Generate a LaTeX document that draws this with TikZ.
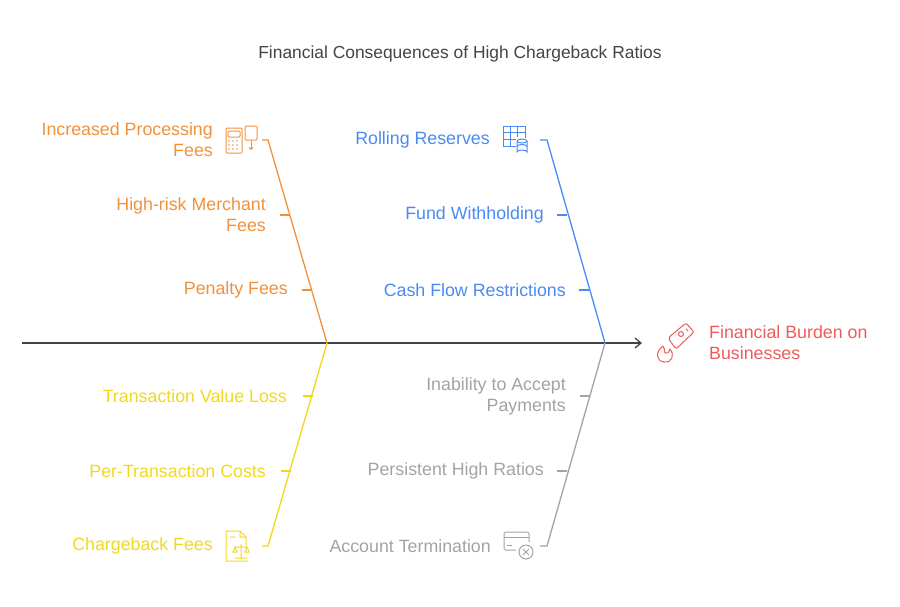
\documentclass[tikz,border=0pt]{standalone}
\usepackage{fontspec}
\setmainfont{Liberation Sans}
\usetikzlibrary{arrows.meta}
\definecolor{cor}{HTML}{F0923C}
\definecolor{cbl}{HTML}{4A8AF4}
\definecolor{cye}{HTML}{F2D81C}
\definecolor{cgr}{HTML}{A3A3A3}
\definecolor{cre}{HTML}{EF5B5B}
\definecolor{cdk}{HTML}{444444}
\begin{document}
\begin{tikzpicture}[x=1pt,y=-1pt,
 lbl/.style={font=\fontsize{17.8}{21}\selectfont,align=right,anchor=east,inner sep=0pt},
 bone/.style={line width=1.3pt},
 ico/.style={line width=1pt}]
\useasboundingbox (0,0) rectangle (900,606);
\node[font=\fontsize{17.4}{20}\selectfont,text=cdk] (title) at (460,54) {Financial Consequences of High Chargeback Ratios};
% spine
\coordinate (s0) at (22,343); \coordinate (s1) at (642,343);
\coordinate (jo) at (327,343); \coordinate (jb) at (605,343);
\draw[cdk,line width=1.3pt,-{Straight Barb[length=6pt,width=10pt]}] (s0) -- (s1);
% orange
\draw[cor,bone] (262,140) -- (268,140) -- (jo);
\draw[cor,bone] (280,215) -- (290,215) (302,290) -- (312,290);
\node[lbl,text=cor] (o1) at (213,140) {Increased Processing\\Fees};
\node[lbl,text=cor] (o2) at (266,215) {High-risk Merchant\\Fees};
\node[lbl,text=cor] (o3) at (288,290) {Penalty Fees};
\draw[cor,ico,rounded corners=1pt] (226,128) rectangle (242,153) (228,131) rectangle (240,137) (245,126) rectangle (257,140);
\foreach \i in {0,1,2} \foreach \j in {0,1,2} \fill[cor] (229+\i*4,141+\j*4) circle (0.9);
\draw[cor,ico,-{Straight Barb[length=2pt]}] (251,141) -- (251,150);
% blue
\draw[cbl,bone] (540,140) -- (547,140) -- (jb);
\draw[cbl,bone] (557,215) -- (567,215) (579,290) -- (589,290);
\node[lbl,text=cbl] (b1) at (490,140) {Rolling Reserves};
\node[lbl,text=cbl] (b2) at (544,215) {Fund Withholding};
\node[lbl,text=cbl] (b3) at (566,290) {Cash Flow Restrictions};
\draw[cbl,ico] (503,126) rectangle (525,146) (503,132) -- (525,132) (503,139) -- (516,139) (510,126) -- (510,146) (517,126) -- (517,137);
\fill[white] (515.5,137.5) rectangle (529,156);
\draw[cbl,ico] (517,141) -- (517,152) arc[start angle=180,end angle=360,x radius=5,y radius=2] -- (527,141);
\draw[cbl,ico] (517,146.5) arc[start angle=180,end angle=360,x radius=5,y radius=2];
\draw[cbl,ico] (522,141) ellipse (5 and 2);
% yellow
\draw[cye,bone] (jo) -- (268,546) -- (262,546);
\draw[cye,bone] (303,396) -- (313,396) (281,471) -- (291,471);
\node[lbl,text=cye] (y1) at (287,396) {Transaction Value Loss};
\node[lbl,text=cye] (y2) at (266,471) {Per-Transaction Costs};
\node[lbl,text=cye] (y3) at (213,546) {Chargeback Fees};
\draw[cye,ico] (226,531) -- (226,561) -- (248,561) (226,531) -- (240,531) -- (246,537) -- (246,546) (240,531) -- (240,537) -- (246,537) (230,537) -- (235,537);
\draw[cye,ico] (241,544) -- (241,558) (235,558) -- (247,558) (235,547) -- (247,547) (235,547) -- (233,552) -- (237,552) -- cycle (247,547) -- (245,552) -- (249,552) -- cycle;
% gray
\draw[cgr,bone] (jb) -- (547,546) -- (540,546);
\draw[cgr,bone] (580,396) -- (590,396) (557,471) -- (567,471);
\node[lbl,text=cgr] (g1) at (566,396) {Inability to Accept\\Payments};
\node[lbl,text=cgr] (g2) at (544,471) {Persistent High Ratios};
\node[lbl,text=cgr] (g3) at (491,546) {Account Termination};
\draw[cgr,ico,rounded corners=1.5pt] (516,550) -- (504,550) -- (504,532) -- (529,532) -- (529,542);
\draw[cgr,ico] (504,537) -- (529,537) (507,545) -- (512,545);
\draw[cgr,ico] (526,552) circle (7) (523,549) -- (529,555) (529,549) -- (523,555);
% red
\node[font=\fontsize{17.8}{21}\selectfont,text=cre,align=left,anchor=west,inner sep=0pt] (r) at (709,343) {Financial Burden on\\Businesses};
\begin{scope}[cre,ico,line join=round]
\draw[rounded corners=2pt] (668,338) -- (686,323) -- (694,332) -- (676,349) -- cycle;
\draw (681,334) circle (2.5) (686,329) -- (688,331);
\draw (663,346) .. controls (655,352) and (656,361) .. (664,362) .. controls (672,363) and (675,355) .. (670,349) .. controls (669,353) and (667,354) .. (665,353) .. controls (665,350) and (664,348) .. (663,346);
\end{scope}
\end{tikzpicture}
\end{document}
